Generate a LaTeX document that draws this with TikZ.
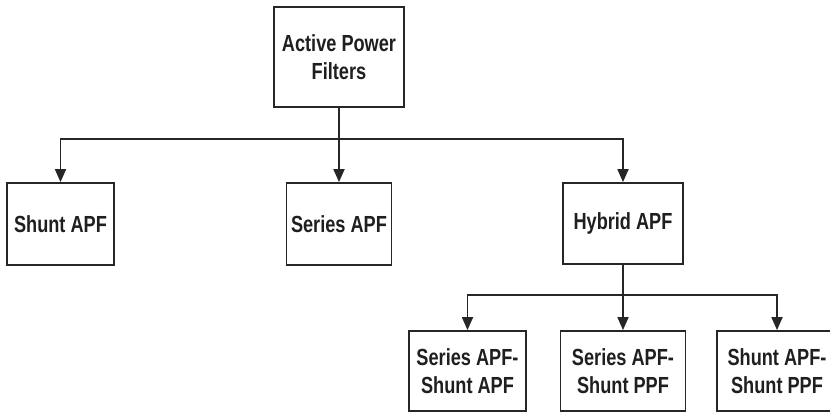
\documentclass[tikz,border=0pt]{standalone}
\usepackage{fontspec}
\newfontfamily\lbl{Liberation Sans Bold}[FakeStretch=0.78]
\usetikzlibrary{arrows.meta}
\begin{document}
\begin{tikzpicture}[x=1pt,y=-1pt,
  box/.style={draw=black!85,line width=1.8pt,fill=white,inner sep=0pt,align=center,
    font=\lbl\fontsize{23.3}{28}\selectfont,text=black!88},
  conn/.style={line width=1.8pt,draw=black!85},
  arr/.style={conn,-{Triangle[width=11pt,length=13pt]}}]
\useasboundingbox (0,0) rectangle (830,413);
\clip (0,0) rectangle (830,413);
\node[box,minimum width=130pt,minimum height=100pt] (apf) at (339,57) {Active Power\\Filters};
\node[box,minimum width=107pt,minimum height=82pt] (shunt) at (60.5,224) {Shunt APF};
\node[box,minimum width=105pt,minimum height=82pt] (series) at (339,224) {Series APF};
\node[box,minimum width=120pt,minimum height=81pt] (hybrid) at (623,223.5) {Hybrid APF};
\node[box,minimum width=117pt,minimum height=80pt] (b1) at (467.5,371) {Series APF-\\Shunt APF};
\node[box,minimum width=125pt,minimum height=80pt] (b2) at (623,371) {Series APF-\\Shunt PPF};
\node[box,minimum width=120pt,minimum height=80pt] (b3) at (777,371) {Shunt APF-\\Shunt PPF};
\coordinate (j1) at (339,139);
\coordinate (j2) at (623,295);
\draw[arr] (apf.south) -- (series.north);
\draw[arr] (j1) -| (shunt.north);
\draw[arr] (j1) -| (hybrid.north);
\draw[arr] (hybrid.south) -- (b2.north);
\draw[arr] (j2) -| (b1.north);
\draw[arr] (j2) -| (b3.north);
\end{tikzpicture}
\end{document}
